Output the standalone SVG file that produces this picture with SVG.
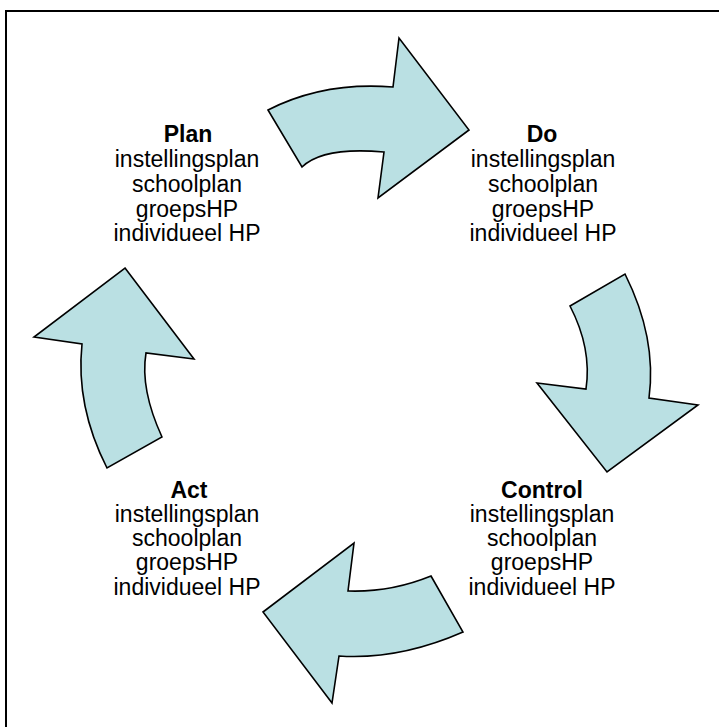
<svg xmlns="http://www.w3.org/2000/svg" width="719" height="727" viewBox="0 0 719 727">
<style>
.arrow{fill:#BAE0E3;stroke:#000;stroke-width:1.6;stroke-linejoin:miter}
.t{font-family:"Liberation Sans",Arial,sans-serif;font-size:23px;fill:#000;text-anchor:middle}
.h{font-weight:bold}
</style>
<rect width="719" height="727" fill="#fff"/>
<path d="M6,727 V11 H719" fill="none" stroke="#000" stroke-width="2"/>
<g id="connectors">
<path id="arrow-plan-do" class="arrow" d="M268,110 Q323.5,81.5 393,87 L399,38 L469,130 L378,198 L384,152 Q323,146.5 302,167 Z"/>
<path id="arrow-do-control" class="arrow" d="M570,306 L625,274 Q657,338 649,398 L698,405 L607,472 L537,383 L586,389 Q592,348.5 570,306 Z"/>
<path id="arrow-control-act" class="arrow" d="M431,576 L463,632 Q399,660 339,656 L332,703 L263,612 L354,543 L348,591 Q390.5,592.5 431,576 Z"/>
<path id="arrow-act-plan" class="arrow" d="M125,268 L194,359 L146,353 Q140,389 162,437 L107,468 Q75.5,406 82,344 L34,337 Z"/>
</g>
<g id="plan">
<text class="t h" x="188" y="142">Plan</text>
<text class="t" x="187" y="167">instellingsplan</text>
<text class="t" x="187" y="192">schoolplan</text>
<text class="t" x="187" y="217">groepsHP</text>
<text class="t" x="187" y="241">individueel HP</text>
</g>
<g id="do">
<text class="t h" x="542" y="142">Do</text>
<text class="t" x="543" y="167">instellingsplan</text>
<text class="t" x="543" y="192">schoolplan</text>
<text class="t" x="543" y="217">groepsHP</text>
<text class="t" x="543" y="241">individueel HP</text>
</g>
<g id="control">
<text class="t h" x="542" y="498">Control</text>
<text class="t" x="542" y="522">instellingsplan</text>
<text class="t" x="542" y="546">schoolplan</text>
<text class="t" x="542" y="570">groepsHP</text>
<text class="t" x="542" y="595">individueel HP</text>
</g>
<g id="act">
<text class="t h" x="189" y="498">Act</text>
<text class="t" x="187" y="522">instellingsplan</text>
<text class="t" x="187" y="546">schoolplan</text>
<text class="t" x="187" y="570">groepsHP</text>
<text class="t" x="187" y="595">individueel HP</text>
</g>
</svg>
